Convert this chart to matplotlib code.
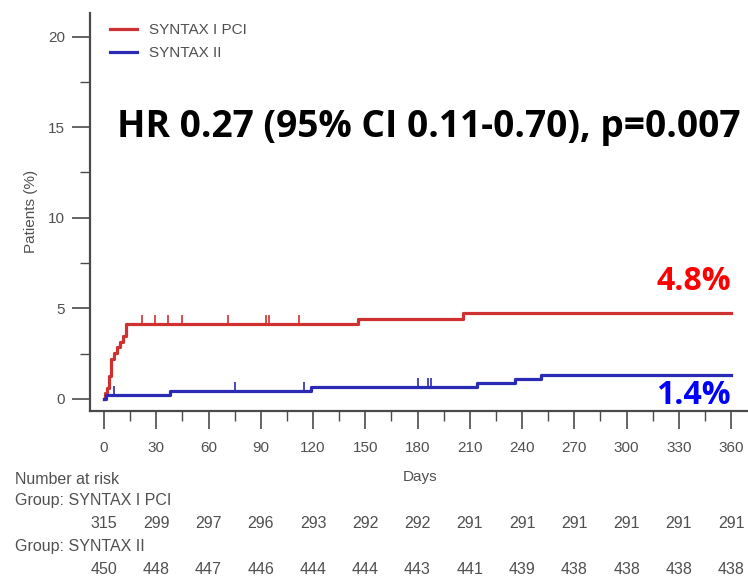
import matplotlib
matplotlib.use("Agg")
import matplotlib.pyplot as plt
from matplotlib.transforms import blended_transform_factory
from matplotlib.ticker import MultipleLocator

# Cumulative incidence (%) step curves
red_days = [0, 0.5, 1.5, 3, 4, 6, 7.5, 9, 11, 12.5, 146, 206, 360]
red_pct = [0, 0.32, 0.63, 1.27, 2.22, 2.54, 2.86, 3.17, 3.49, 4.13, 4.44, 4.76, 4.76]
blue_days = [0, 1, 38, 119, 214, 236, 251, 360]
blue_pct = [0, 0.22, 0.44, 0.67, 0.89, 1.11, 1.33, 1.33]

# Censoring times
red_censor = [22, 29, 37, 45, 71, 93, 95, 112]
blue_censor = [6, 75, 115, 180, 186, 188]

series_names = ["SYNTAX I PCI", "SYNTAX II"]
risk_days = [0, 30, 60, 90, 120, 150, 180, 210, 240, 270, 300, 330, 360]
risk_pci = [315, 299, 297, 296, 293, 292, 292, 291, 291, 291, 291, 291, 291]
risk_ii = [450, 448, 447, 446, 444, 444, 443, 441, 439, 438, 438, 438, 438]

hr_text = "HR 0.27 (95% CI 0.11-0.70), p=0.007"
end_labels = ["4.8%", "1.4%"]
end_values = [4.8, 1.4]

RED = "#cf3030"
BLUE = "#2a2ab4"
GRAY = "#4a4a4a"
TXT = "#505050"
W, H = 748, 576

plt.rcParams["font.family"] = ["Liberation Sans", "DejaVu Sans"]

fig = plt.figure(figsize=(W / 100, H / 100), dpi=100)
ax = fig.add_axes([90 / W, 1 - 410.5 / H, 1 - 90 / W, (410.5 - 13) / H])
ax.set_xlim(-8.04, 369.7)
ax.set_ylim(-0.635, 21.3)

def step_with_censor(days, pct, censor, color, label):
    ax.step(days, pct, where="post", color=color, lw=2.3, label=label, zorder=3)
    for c in censor:
        # level of the curve at censoring time
        lvl = pct[0]
        for d, p in zip(days, pct):
            if d <= c:
                lvl = p
        ax.vlines(c, lvl, lvl + 0.5, color=color, lw=1.2, zorder=3)

step_with_censor(red_days, red_pct, red_censor, RED, series_names[0])
step_with_censor(blue_days, blue_pct, blue_censor, BLUE, series_names[1])

for side in ("top", "right"):
    ax.spines[side].set_visible(False)
for side in ("left", "bottom"):
    ax.spines[side].set_color(GRAY)
    ax.spines[side].set_linewidth(1.6)

ax.set_xticks(risk_days)
ax.xaxis.set_minor_locator(MultipleLocator(15))
ax.set_yticks([0, 5, 10, 15, 20])
ax.yaxis.set_minor_locator(MultipleLocator(2.5))
ax.tick_params(which="major", direction="out", length=13, width=1.2, color=GRAY,
               labelsize=11, labelcolor=TXT, pad=5)
ax.tick_params(which="minor", direction="out", length=7, width=1.0, color=GRAY)
ax.tick_params(axis="x", which="major", pad=9)

ax.set_ylabel("Patients (%)", fontsize=11, color=TXT, labelpad=7)

leg = ax.legend(loc="upper left", bbox_to_anchor=(110 / W, 1 - 23 / H),
                bbox_transform=fig.transFigure, frameon=False, fontsize=11,
                handlelength=1.75, handletextpad=0.8, labelspacing=0.62,
                borderpad=0, borderaxespad=0)
for t in leg.get_texts():
    t.set_color(TXT)

bold = dict(family=["Open Sans", "DejaVu Sans"], weight="bold")
fig.text(117 / W, 1 - 127 / H, hr_text, fontsize=26.7, color="black",
         ha="left", va="center", **bold)

ax.text(360, end_values[0] + 0.75, end_labels[0], color="#ff0000", fontsize=23,
        ha="right", va="bottom", **bold)
ax.text(360, end_values[1] - 0.3, end_labels[1], color="#0000ff", fontsize=23,
        ha="right", va="top", **bold)

# Risk table below the axis
tr = blended_transform_factory(ax.transData, fig.transFigure)
fy = lambda py: 1 - py / H
fig.text(420 / W, fy(477), "Days", fontsize=11, color=TXT, ha="center", va="center")
fig.text(15 / W, fy(480), "Number at risk", fontsize=11.5, color=TXT, va="center")
fig.text(15 / W, fy(501), "Group: " + series_names[0], fontsize=11.5, color=TXT, va="center")
fig.text(15 / W, fy(546), "Group: " + series_names[1], fontsize=11.5, color=TXT, va="center")
for d, a, b in zip(risk_days, risk_pci, risk_ii):
    ax.text(d, fy(524), str(a), transform=tr, fontsize=11.5, color=TXT,
            ha="center", va="center")
    ax.text(d, fy(569), str(b), transform=tr, fontsize=11.5, color=TXT,
            ha="center", va="center")

fig.savefig("out.png", dpi=100)
